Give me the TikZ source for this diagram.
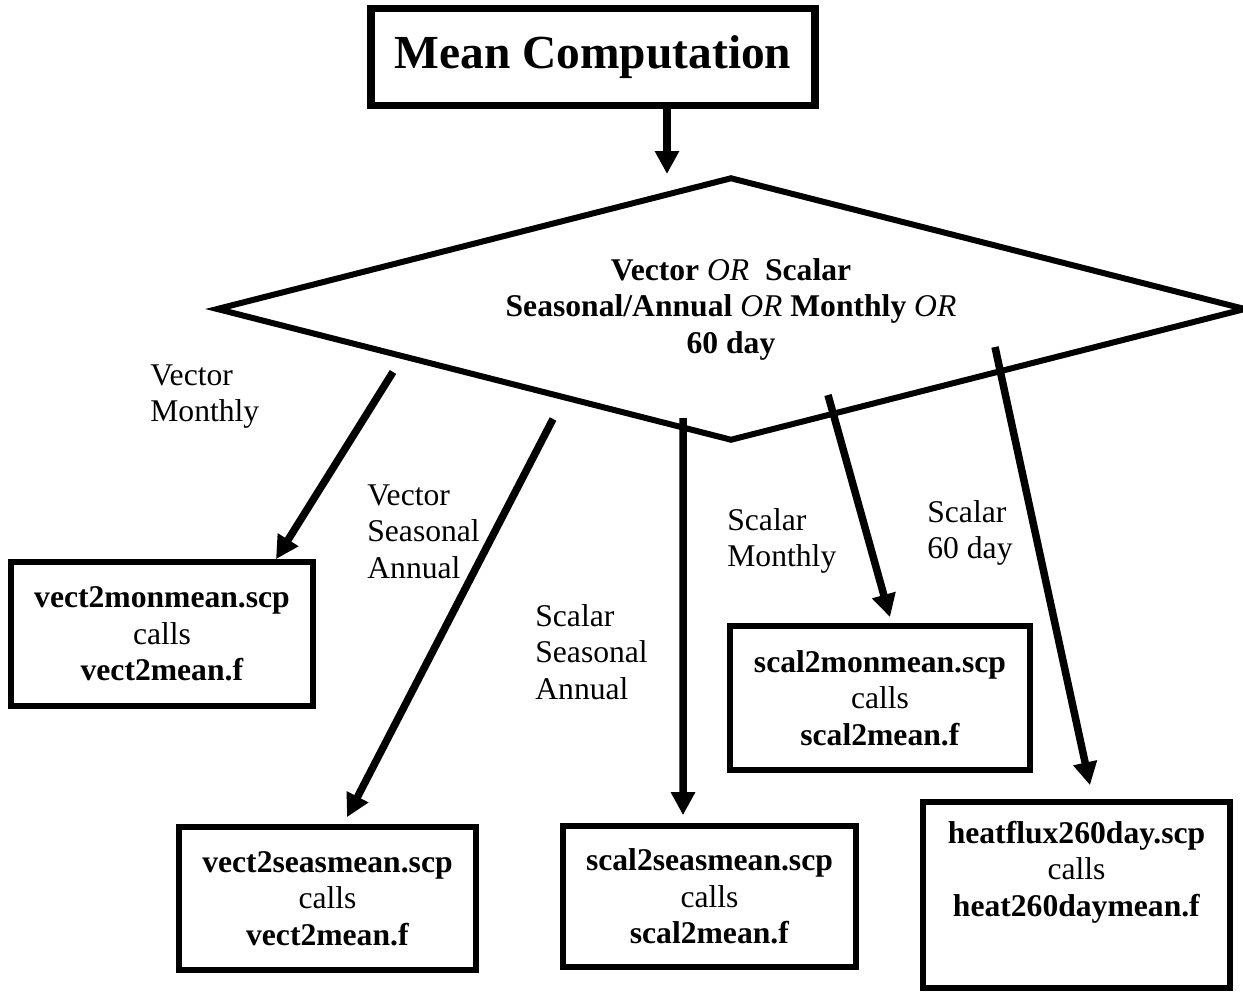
\documentclass[tikz,border=0pt]{standalone}
\usepackage{fontspec}
\setmainfont{Liberation Serif}
\usetikzlibrary{arrows.meta,shapes.geometric}

\begin{document}
\begin{tikzpicture}[
    x=0.02cm, y=-0.02cm,
    box/.style={draw, line width=0.114cm, align=center, inner sep=0pt,
                font=\fontsize{18}{20.8}\selectfont},
    decision/.style={draw, diamond, aspect=3.9, line width=0.12cm, inner sep=0pt,
                     minimum width=20.6cm, minimum height=5.28cm, align=center,
                     font=\fontsize{18}{20.8}\selectfont\bfseries},
    arrow/.style={-{Triangle[length=0.46cm,width=0.46cm]}, line width=0.15cm},
    tag/.style={anchor=north west, align=left, inner sep=0pt,
                font=\fontsize{18}{20.8}\selectfont}
]
\useasboundingbox (0,0) rectangle (1243,994);

% ── Title and decision ──
\node[box, line width=0.154cm, minimum width=8.88cm, minimum height=1.94cm,
      font=\fontsize{27}{32}\selectfont\bfseries] (title) at (593,57) {Mean Computation};

\node[decision] (dec) at (731,309)
    {Vector \textmd{\textit{OR}}\ \ Scalar\\
     Seasonal/Annual \textmd{\textit{OR}} Monthly \textmd{\textit{OR}}\\
     60 day};

% ── Script boxes ──
\node[box, minimum width=6.04cm, minimum height=2.88cm] (vmon) at (162,634)
    {\textbf{vect2monmean.scp}\\calls\\\textbf{vect2mean.f}};
\node[box, minimum width=5.94cm, minimum height=2.86cm] (vseas) at (327.5,898.5)
    {\textbf{vect2seasmean.scp}\\calls\\\textbf{vect2mean.f}};
\node[box, minimum width=5.86cm, minimum height=2.82cm] (sseas) at (709.5,896.5)
    {\textbf{scal2seasmean.scp}\\calls\\\textbf{scal2mean.f}};
\node[box, minimum width=6.0cm, minimum height=2.88cm] (smon) at (880,698)
    {\textbf{scal2monmean.scp}\\calls\\\textbf{scal2mean.f}};
\node[box, minimum width=6.14cm, minimum height=3.72cm, text depth=1.06cm] (heat) at (1076.5,895)
    {\textbf{heatflux260day.scp}\\calls\\\textbf{heat260daymean.f}};

% ── Branch labels ──
\node[tag] (lvm)  at (150,364) {Vector\\Monthly};
\node[tag] (lvsa) at (367,484) {Vector\\Seasonal\\Annual};
\node[tag] (lssa) at (535,604) {Scalar\\Seasonal\\Annual};
\node[tag] (lsm)  at (727,508) {Scalar\\Monthly};
\node[tag] (l60)  at (927,500) {Scalar\\60 day};

% ── Arrows ──
\coordinate (t0) at ([xshift=1.48cm]title.south);
\coordinate (s1) at (393,372);
\coordinate (s2) at (553,419);
\coordinate (s3) at (683,418);
\coordinate (s4) at (828,395);
\coordinate (s5) at (995,347);

\draw[arrow] (t0) -- (t0 |- dec.north);
\draw[arrow] (s1) -- ([xshift=2.28cm]vmon.north);
\draw[arrow] (s2) -- ([xshift=0.39cm,yshift=0.14cm]vseas.north);
\draw[arrow] (s3) -- ([xshift=-0.53cm,yshift=0.16cm]sseas.north);
\draw[arrow] (s4) -- ([xshift=0.2cm,yshift=0.12cm]smon.north);
\draw[arrow] (s5) -- ([xshift=0.27cm,yshift=0.28cm]heat.north);

\end{tikzpicture}
\end{document}
